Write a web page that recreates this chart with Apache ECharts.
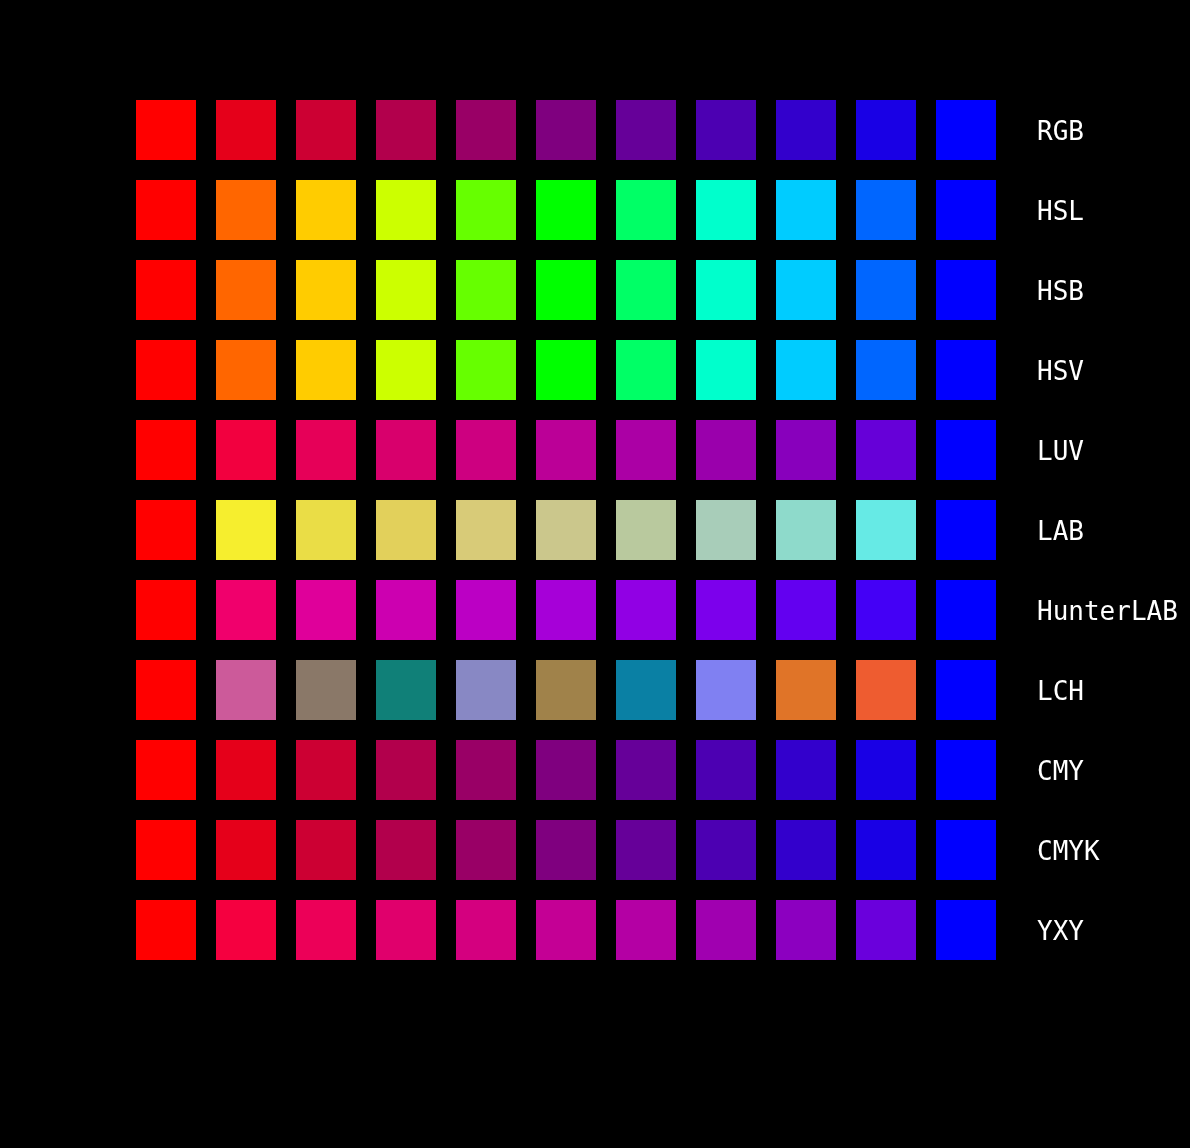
<!DOCTYPE html>
<html>
<head>
<meta charset="utf-8">
<script src="https://cdn.jsdelivr.net/npm/echarts@6/dist/echarts.min.js"></script>
<style>
html,body{margin:0;padding:0;background:#000;}
#chart{width:1190px;height:1148px;}
</style>
</head>
<body>
<div id="chart"></div>
<script>
var rowNames = ['RGB','HSL','HSB','HSV','LUV','LAB','HunterLAB','LCH','CMY','CMYK','YXY'];
var steps = ['0','1','2','3','4','5','6','7','8','9','10'];

var rgbColors = ['#ff0000','#e5001a','#cc0033','#b2004c','#990066','#7f007f','#660099','#4c00b2','#3300cc','#1900e5','#0000ff'];
var hslColors = ['#ff0000','#ff6600','#ffcc00','#ccff00','#66ff00','#00ff00','#00ff66','#00ffcc','#00ccff','#0066ff','#0000ff'];
var hsbColors = ['#ff0000','#ff6600','#ffcc00','#ccff00','#66ff00','#00ff00','#00ff66','#00ffcc','#00ccff','#0066ff','#0000ff'];
var hsvColors = ['#ff0000','#ff6600','#ffcc00','#ccff00','#66ff00','#00ff00','#00ff66','#00ffcc','#00ccff','#0066ff','#0000ff'];
var luvColors = ['#ff0000','#f2003f','#e60058','#d8006c','#cd0080','#bb0097','#ab00a5','#9a00ac','#8800bc','#6600d8','#0000ff'];
var labColors = ['#ff0000','#f6ee2e','#eadd46','#e2d05b','#d8cb78','#cbc78c','#b9c99e','#a8cdb9','#8edacb','#66eae5','#0000ff'];
var hunterLabColors = ['#ff0000','#f0006c','#df009a','#cc00b0','#bb00c4','#a600d8','#9100e4','#7c00ec','#6300f0','#4400f6','#0000ff'];
var lchColors = ['#ff0000','#cc5a9a','#8a7868','#108078','#8888c4','#a0824a','#0a80a4','#8080f2','#e07428','#ee5c30','#0000ff'];
var cmyColors = ['#ff0000','#e5001a','#cc0033','#b2004c','#990066','#7f007f','#660099','#4c00b2','#3300cc','#1900e5','#0000ff'];
var cmykColors = ['#ff0000','#e5001a','#cc0033','#b2004c','#990066','#7f007f','#660099','#4c00b2','#3300cc','#1900e5','#0000ff'];
var yxyColors = ['#ff0000','#f50040','#ec0058','#e0006c','#d4007f','#c40095','#b400a4','#a000b0','#8c00c0','#6a00dc','#0000ff'];

var rowColors = [rgbColors,hslColors,hsbColors,hsvColors,luvColors,labColors,hunterLabColors,lchColors,cmyColors,cmykColors,yxyColors];

var data = [];
rowNames.forEach(function(name, r){
  rowColors[r].forEach(function(c, i){
    data.push({value:[steps[i], name], itemStyle:{color:c, opacity:1}});
  });
});

var chart = echarts.init(document.getElementById('chart'), null, {renderer:'canvas'});
chart.setOption({
  backgroundColor:'#000000',
  animation:false,
  grid:{left:126, top:90, width:880, height:880},
  xAxis:{type:'category', data:steps, show:false},
  yAxis:{
    type:'category', data:rowNames, inverse:true, position:'right',
    axisLine:{show:false}, axisTick:{show:false}, splitLine:{show:false},
    axisLabel:{
      margin:31,
      formatter:function(v){ return '{a|' + v + '}'; },
      rich:{a:{color:'#ffffff', fontFamily:'DejaVu Sans Mono', fontSize:26, padding:[7,0,0,0]}}
    }
  },
  series:[{
    type:'scatter',
    symbol:'rect',
    symbolSize:60,
    itemStyle:{opacity:1},
    emphasis:{disabled:true},
    data:data
  }]
});
</script>
</body>
</html>
